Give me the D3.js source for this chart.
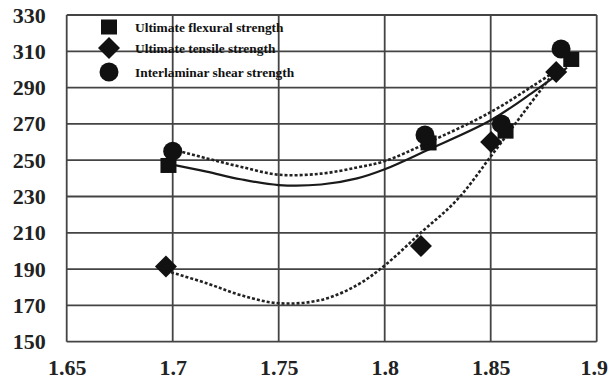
<!DOCTYPE html>
<html>
<head>
<meta charset="utf-8">
<script src="https://cdn.jsdelivr.net/npm/d3@7"></script>
<style>
  html, body { margin: 0; padding: 0; background: #fff; }
  svg { display: block; }
</style>
</head>
<body>
<svg id="chart" width="609" height="381"></svg>
<script>
// ---- data ----
const seriesNames = ["Ultimate flexural strength", "Ultimate tensile strength", "Interlaminar shear strength"];
const xTicks = [1.65, 1.7, 1.75, 1.8, 1.85, 1.9];
const xTickLabels = ["1.65", "1.7", "1.75", "1.8", "1.85", "1.9"];
const yTicks = [150, 170, 190, 210, 230, 250, 270, 290, 310, 330];

const flexuralX = [1.698, 1.8207, 1.857, 1.888];
const flexuralY = [247.1, 259.5, 266, 305.5];
const tensileX = [1.6968, 1.8171, 1.8502, 1.8809];
const tensileY = [191.4, 202.7, 260, 298.6];
const shearX = [1.7, 1.819, 1.855, 1.8832];
const shearY = [255, 263.9, 270, 311.3];

// trend curves
const flexTrendX = [1.698, 1.716, 1.732, 1.75, 1.77, 1.787, 1.8, 1.82, 1.85, 1.87, 1.886];
const flexTrendY = [248, 243.7, 239.5, 236.3, 236.6, 240, 245, 255.5, 272, 287.5, 301];
const tensTrendX = [1.697, 1.716, 1.732, 1.75, 1.77, 1.787, 1.8, 1.817, 1.834, 1.85, 1.866, 1.881];
const tensTrendY = [189, 182.2, 175.7, 171.2, 173, 181.2, 192, 210, 228, 252, 277, 300];
const shearTrendX = [1.7, 1.716, 1.732, 1.75, 1.77, 1.787, 1.8, 1.82, 1.85, 1.87, 1.883];
const shearTrendY = [256, 251, 246.4, 242, 242.6, 246, 249.5, 259.5, 276.5, 291, 301];

// ---- layout ----
const svg = d3.select("#chart");
const pLeft = 66.7, pRight = 596.7, pTop = 15, pBottom = 341.7;
const x = d3.scaleLinear().domain([1.65, 1.9]).range([pLeft, pRight]);
const y = d3.scaleLinear().domain([150, 330]).range([pBottom, pTop]);
const ink = "#111";
const gridColor = "#444";
const serif = "'Liberation Serif', 'Times New Roman', serif";

// gridlines
const g = svg.append("g");
g.selectAll("line.h").data(yTicks).join("line").attr("class", "h")
  .attr("x1", pLeft).attr("x2", pRight)
  .attr("y1", d => y(d)).attr("y2", d => y(d))
  .attr("stroke", gridColor).attr("stroke-width", 1.8);
g.selectAll("line.v").data(xTicks).join("line").attr("class", "v")
  .attr("y1", pTop).attr("y2", pBottom)
  .attr("x1", d => x(d)).attr("x2", d => x(d))
  .attr("stroke", gridColor).attr("stroke-width", 1.8);

// axes labels using d3 axes (domain and ticks hidden)
const yAxis = d3.axisLeft(y).tickValues(yTicks).tickSize(0).tickPadding(21).tickFormat(d3.format("d"));
const ya = svg.append("g").attr("transform", `translate(${pLeft},0)`).call(yAxis);
ya.select(".domain").remove();
ya.selectAll("text").attr("font-family", serif).attr("font-weight", "bold")
  .attr("font-size", 22).attr("fill", "#222");

const xAxis = d3.axisBottom(x).tickValues(xTicks).tickSize(0).tickPadding(0)
  .tickFormat((d, i) => xTickLabels[i]);
const xa = svg.append("g").attr("transform", `translate(0,${pBottom})`).call(xAxis);
xa.select(".domain").remove();
xa.selectAll("text").attr("font-family", serif).attr("font-weight", "bold")
  .attr("font-size", 22).attr("fill", "#222").attr("dy", null).attr("y", 33)
  .attr("dx", (d, i) => i === xTicks.length - 1 ? -3 : 0);

// trend lines
const line = d3.line().x(d => x(d[0])).y(d => y(d[1])).curve(d3.curveCatmullRom.alpha(0.5));
const zip = (a, b) => a.map((v, i) => [v, b[i]]);
svg.append("path").datum(zip(flexTrendX, flexTrendY)).attr("d", line)
  .attr("fill", "none").attr("stroke", "#1a1a1a").attr("stroke-width", 2.2);
svg.append("path").datum(zip(tensTrendX, tensTrendY)).attr("d", line)
  .attr("fill", "none").attr("stroke", "#222").attr("stroke-width", 2.6).attr("stroke-dasharray", "3,2");
svg.append("path").datum(zip(shearTrendX, shearTrendY)).attr("d", line)
  .attr("fill", "none").attr("stroke", "#222").attr("stroke-width", 2.6).attr("stroke-dasharray", "3,2");

// markers
function square(sel, cx, cy) {
  sel.append("rect").attr("x", cx - 8).attr("y", cy - 7.5).attr("width", 16).attr("height", 15).attr("fill", ink);
}
function diamond(sel, cx, cy) {
  sel.append("path").attr("d", `M${cx},${cy - 11}L${cx + 11},${cy}L${cx},${cy + 11}L${cx - 11},${cy}Z`).attr("fill", ink);
}
function circle(sel, cx, cy) {
  sel.append("circle").attr("cx", cx).attr("cy", cy).attr("r", 9.5).attr("fill", ink);
}
const m = svg.append("g");
flexuralX.forEach((v, i) => square(m, x(v), y(flexuralY[i])));
tensileX.forEach((v, i) => diamond(m, x(v), y(tensileY[i])));
shearX.forEach((v, i) => circle(m, x(v), y(shearY[i])));

// legend
const lg = svg.append("g");
const legY = [27, 48, 72];
square(lg, 109, legY[0]);
diamond(lg, 109, legY[1]);
circle(lg, 109, legY[2]);
lg.selectAll("text").data(seriesNames).join("text")
  .attr("x", 135).attr("y", (d, i) => legY[i]).attr("dy", "0.35em")
  .attr("font-family", serif).attr("font-weight", "bold").attr("font-size", 13.4)
  .attr("fill", "#111").text(d => d);
</script>
</body>
</html>
